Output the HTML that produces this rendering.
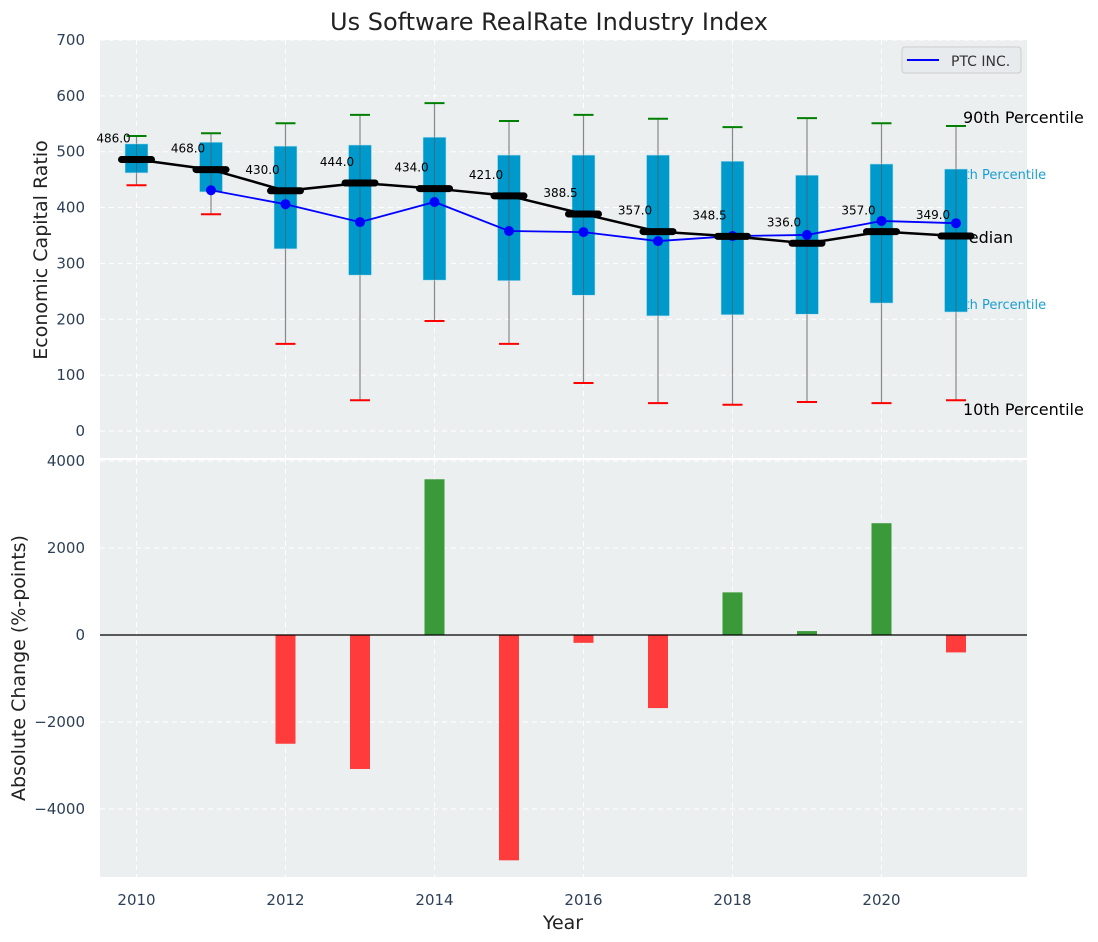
<!DOCTYPE html>
<html><head><meta charset="utf-8"><style>
body{margin:0;background:#fff;}
svg{display:block;font-family:"DejaVu Sans","Liberation Sans",sans-serif;}
</style></head><body>
<svg id="chart" width="1098" height="942">
<text x="549" y="30" text-anchor="middle" font-size="24" fill="#222">Us Software RealRate Industry Index</text>
<rect x="100" y="40" width="927" height="418" fill="#ebeff0"/>
<rect x="100" y="460" width="927" height="417" fill="#ebeff0"/>
<g id="grid"></g>
<g id="marks"></g>
<text transform="translate(47,250) rotate(-90)" text-anchor="middle" font-size="19" fill="#222">Economic Capital Ratio</text>
<text transform="translate(25,668) rotate(-90)" text-anchor="middle" font-size="19" fill="#222">Absolute Change (%-points)</text>
<text x="563" y="929" text-anchor="middle" font-size="19" fill="#222">Year</text>
<g>
<rect x="902" y="47" width="119" height="26" rx="3" fill="#e8ebee" stroke="#ccc"/>
<line x1="907" y1="60" x2="939" y2="60" stroke="#0000ff" stroke-width="2"/>
<text x="951" y="66" font-size="14" fill="#333">PTC INC.</text>
</g>
</svg>
<script>
const years=[2010,2011,2012,2013,2014,2015,2016,2017,2018,2019,2020,2021];
const p90=[528,533,551,566,587,555,566,559,544,560,551,546];
const q75=[514,517,510,512,526,494,494,494,483,458,478,469];
const median=[486,468,430,444,434,421,388.5,357,348.5,336,357,349];
const q25=[462,428,326,279,270,269,243,206,208,209,229,213];
const p10=[440,388,156,55,197,156,86,50,47,52,50,55];
const ptcYears=[2011,2012,2013,2014,2015,2016,2017,2018,2019,2020,2021];
const ptc=[431,406,374,410,358,356,340,349,351,376,372];
const changeYears=[2012,2013,2014,2015,2016,2017,2018,2019,2020,2021];
const changes=[-2500,-3080,3580,-5180,-180,-1680,980,90,2570,-400];
const topTicks=[0,100,200,300,400,500,600,700];
const botTicks=[-4000,-2000,0,2000,4000];
const xTicks=[2010,2012,2014,2016,2018,2020];

const NS="http://www.w3.org/2000/svg";
const X=y=>136.5+(y-2010)*74.5;
const YT=v=>431-v*0.5586;
const YB=v=>635-v*0.0435;
function mk(tag,attrs,parent,txt){const e=document.createElementNS(NS,tag);for(const k in attrs)e.setAttribute(k,attrs[k]);if(txt!=null)e.textContent=txt;parent.appendChild(e);return e;}
const grid=document.getElementById('grid'),marks=document.getElementById('marks');
const gs={stroke:"#fff","stroke-dasharray":"5,4","stroke-width":1};
topTicks.forEach(t=>{
  const l=mk('line',Object.assign({x1:100,x2:1027,y1:YT(t),y2:YT(t)},gs),grid);
  
  
  const tx=mk('text',{x:85,y:YT(t)+5,"text-anchor":"end","font-size":15,fill:"#2e4057"},grid,t);
  
  
});
botTicks.forEach(t=>{
  const l=mk('line',Object.assign({x1:100,x2:1027,y1:YB(t),y2:YB(t)},gs),grid);
  
  
  const tx=mk('text',{x:85,y:YB(t)+5,"text-anchor":"end","font-size":15,fill:"#2e4057"},grid,t<0?"\u2212"+(-t):t);
  
  
});
mk('line',{x1:100,x2:1027,y1:459,y2:459,stroke:"#fff","stroke-width":2},grid);
xTicks.forEach(t=>{
  mk('line',Object.assign({x1:X(t),x2:X(t),y1:40,y2:458},gs),grid);
  mk('line',Object.assign({x1:X(t),x2:X(t),y1:460,y2:877},gs),grid);
  const tx=mk('text',{x:X(t),y:905,"text-anchor":"middle","font-size":15,fill:"#2e4057"},grid,t);
  
  
});
const ann=[["90th Percentile",963,123,16,"#000"],["75th Percentile",948,179,13,"#1a9fd0"],["Median",955,243,16,"#000"],["25th Percentile",948,309,13,"#1a9fd0"],["10th Percentile",963,415,16,"#000"]];
ann.forEach(a=>{const t=mk('text',{x:a[1],y:a[2],"font-size":a[3],fill:a[4]},marks,a[0]);
  
  });
years.forEach((y,i)=>{
  const x=X(y);
  const w=mk('line',{x1:x,x2:x,y1:YT(p90[i]),y2:YT(p10[i]),stroke:"#888","stroke-width":1.2},marks);
  
  
  const b=mk('rect',{x:x-11.5,y:YT(q75[i]),width:23,height:YT(q25[i])-YT(q75[i]),fill:"#0099cc",stroke:"#bfe3ef","stroke-width":0.6},marks);
  
  
  mk('line',{x1:x,x2:x,y1:YT(q75[i]),y2:YT(q25[i]),stroke:"#555","stroke-width":1,opacity:0.6},marks);
  const c1=mk('line',{x1:x-10,x2:x+10,y1:YT(p90[i]),y2:YT(p90[i]),stroke:"#008000","stroke-width":2},marks);
  
  
  const c2=mk('line',{x1:x-10,x2:x+10,y1:YT(p10[i]),y2:YT(p10[i]),stroke:"#ff0000","stroke-width":2},marks);
  
  
});
const ml=mk('polyline',{points:years.map((y,i)=>X(y)+","+YT(median[i])).join(" "),fill:"none",stroke:"#000","stroke-width":2.5},marks);


const pl=mk('polyline',{points:ptcYears.map((y,i)=>X(y)+","+YT(ptc[i])).join(" "),fill:"none",stroke:"#0000ff","stroke-width":1.8},marks);


ptcYears.forEach((y,i)=>{const c=mk('circle',{cx:X(y),cy:YT(ptc[i]),r:5,fill:"#0000ff"},marks);
  
  });
years.forEach((y,i)=>{
  const x=X(y);
  const m=mk('line',{x1:x-15,x2:x+15,y1:YT(median[i]),y2:YT(median[i]),stroke:"#000","stroke-width":7,"stroke-linecap":"round"},marks);
  
  
  const t=mk('text',{x:x-23,y:YT(median[i])-17,"text-anchor":"middle","font-size":12,fill:"#000"},marks,median[i].toFixed(1));
  
  
});
changeYears.forEach((y,i)=>{
  const v=changes[i],x=X(y);
  const b=mk('rect',{x:x-10,y:Math.min(YB(v),YB(0)),width:20,height:Math.abs(YB(v)-YB(0)),fill:v>=0?"#3a9a3a":"#ff3b3b"},marks);
  
  
});
const z=mk('line',{x1:100,x2:1027,y1:YB(0),y2:YB(0),stroke:"#000","stroke-width":1.2},marks);


</script>
</body></html>
